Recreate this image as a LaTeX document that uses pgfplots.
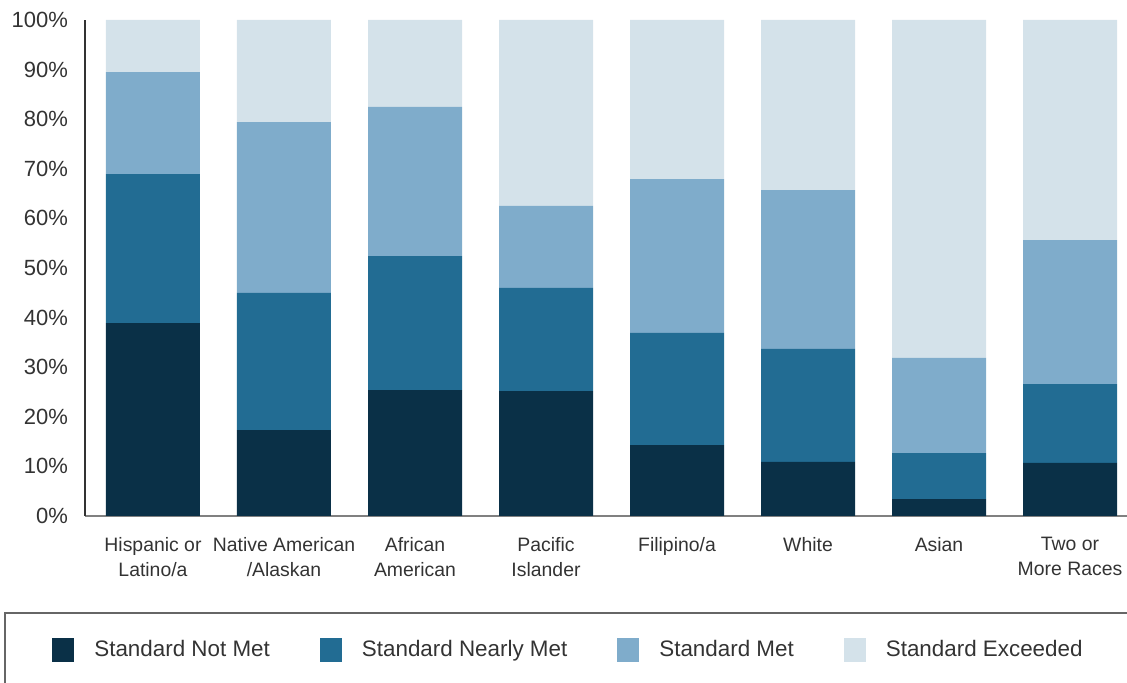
\documentclass[border=0pt]{standalone}
\usepackage{fontspec}
\setmainfont{Liberation Sans}
\usepackage{pgfplots}
\pgfplotsset{compat=1.18}
\definecolor{c1}{HTML}{0A3047}
\definecolor{c2}{HTML}{226C93}
\definecolor{c3}{HTML}{7FACCB}
\definecolor{c4}{HTML}{D4E2EA}
\definecolor{txt}{HTML}{333333}
\begin{document}
\begin{tikzpicture}
\path[use as bounding box, clip] (0,0) rectangle (563.5pt,341.5pt);
\begin{axis}[
  at={(42.5pt,83.5pt)}, anchor=south west,
  scale only axis, width=521pt, height=248pt,
  ybar stacked, bar width=47pt,
  xmin=-0.519, xmax=7.435, ymin=0, ymax=100,
  xtick={0,...,7},
  xticklabels={Hispanic or\\Latino/a, Native American\\/Alaskan, African\\American, Pacific\\Islander, Filipino/a, White, Asian, Two or\\More Races},
  ytick={0,10,...,100},
  yticklabels={0\%,10\%,20\%,30\%,40\%,50\%,60\%,70\%,80\%,90\%,100\%},
  axis x line=bottom, axis y line=left,
  x axis line style={-, draw=gray, line width=0.8pt},
  y axis line style={-, draw=txt, line width=0.8pt},
  major tick length=0pt, tick style={draw=none},
  xticklabel style={font=\fontsize{9.7}{12.5}\selectfont, text=txt, align=center, anchor=north, yshift=-7pt},
  yticklabel style={font=\fontsize{11}{12}\selectfont, text=txt, xshift=-5pt},
  every axis plot/.append style={draw=none},
  legend columns=4,
  legend style={at={(axis description cs:-0.0317,-0.2701)}, anchor=west, draw=none, fill=none, inner sep=0pt,
    font=\fontsize{11.2}{13}\selectfont, text=txt,
    /tikz/every odd column/.append style={column sep=8pt},
    /tikz/every even column/.append style={column sep=23pt}},
  legend image code/.code={\fill[#1] (0pt,-6pt) rectangle (11pt,6pt);},
]
\addplot[fill=c1] coordinates {(0,38.9) (1,17.3) (2,25.4) (3,25.2) (4,14.3) (5,10.9) (6,3.4) (7,10.7)};
\addplot[fill=c2] coordinates {(0,30.0) (1,27.7) (2,27.0) (3,20.8) (4,22.6) (5,22.8) (6,9.3) (7,15.9)};
\addplot[fill=c3] coordinates {(0,20.6) (1,34.4) (2,30.1) (3,16.5) (4,31.0) (5,32.0) (6,19.2) (7,29.0)};
\addplot[fill=c4] coordinates {(0,10.5) (1,20.6) (2,17.5) (3,37.5) (4,32.1) (5,34.3) (6,68.1) (7,44.4)};
\legend{Standard Not Met, Standard Nearly Met, Standard Met, Standard Exceeded}
\end{axis}
\draw[draw=gray!80!black, line width=0.7pt] (2.5pt,35pt) rectangle (700pt,-50pt);
\end{tikzpicture}
\end{document}
